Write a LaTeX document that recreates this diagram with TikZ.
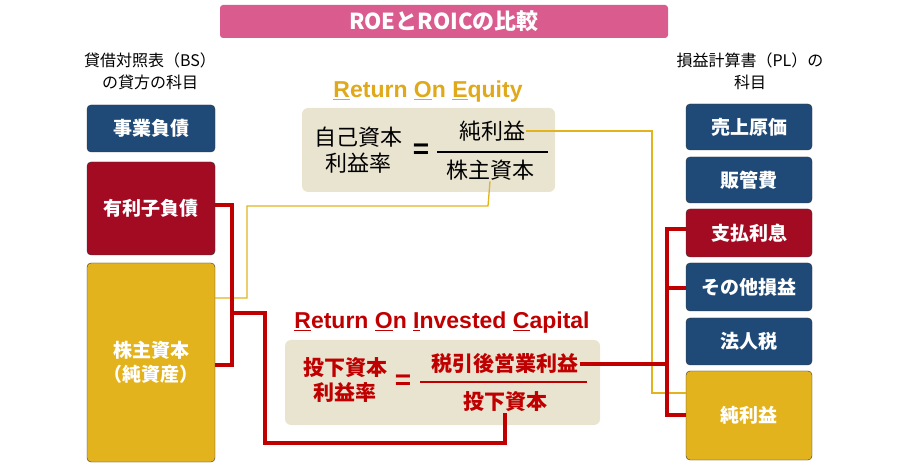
\documentclass[tikz,border=0pt]{standalone}
\usepackage{fontspec}
\setmainfont{Liberation Sans}
\newfontfamily\jp{Noto Sans CJK JP}
\definecolor{navy}{HTML}{1F4A78}
\definecolor{wine}{HTML}{A30B23}
\definecolor{gold}{HTML}{E3B31E}
\definecolor{beige}{HTML}{E9E4D0}
\definecolor{pinkbar}{HTML}{DA5C8F}
\definecolor{roic}{HTML}{C00000}
\definecolor{roe}{HTML}{E0A91B}
\tikzset{
  item/.style={draw=black!80, rounded corners=4pt, minimum width=128pt, text=white, font=\jp\bfseries\fontsize{19}{24}\selectfont, align=center},
  formula/.style={fill=beige, rounded corners=6pt},
  ftxt/.style={font=\jp\fontsize{22}{26}\selectfont, align=center, inner sep=1pt},
  rtxt/.style={text=roic, font=\jp\bfseries\fontsize{21}{25}\selectfont, align=center, inner sep=1pt},
  thinline/.style={gold, line width=1.3pt},
  thickline/.style={roic, line width=3.5pt}
}
\newcommand{\ul}[1]{\underline{#1}}
\begin{document}
\begin{tikzpicture}[x=1pt,y=-1pt]
\useasboundingbox (0,0) rectangle (900,470);
% title
\node[fill=pinkbar, rounded corners=3pt, minimum width=448pt, minimum height=33pt, text=white, font=\jp\bfseries\fontsize{22}{24}\selectfont] (title) at (444,21.5) {ROEとROICの比較};
% left side
\node[font=\jp\fontsize{16}{22}\selectfont, align=center] (bshead) at (150,71) {貸借対照表（BS）\\の貸方の科目};
\node[item, fill=navy, minimum height=47pt] (jigyo) at (151,128.5) {事業負債};
\node[item, fill=wine, minimum height=93pt] (yuri) at (151,208.5) {有利子負債};
\node[item, fill=gold, minimum height=199pt] (kabu) at (151,362.5) {株主資本\\（純資産）};
% right side
\node[font=\jp\fontsize{16}{22}\selectfont, align=center] (plhead) at (750,71) {損益計算書（PL）の\\科目};
\node[item, fill=navy, minimum width=126pt, minimum height=46pt] (genka) at (749,127) {売上原価};
\node[item, fill=navy, minimum width=126pt, minimum height=46pt] (hankan) at (749,180) {販管費};
\node[item, fill=wine, minimum width=126pt, minimum height=48pt] (shiharai) at (749,233) {支払利息};
\node[item, fill=navy, minimum width=126pt, minimum height=48pt] (sonota) at (749,287) {その他損益};
\node[item, fill=navy, minimum width=126pt, minimum height=47pt] (hojin) at (749,341.5) {法人税};
\node[item, fill=gold, minimum width=126pt, minimum height=89pt] (junri) at (749,415.5) {純利益};
% ROE
\node[text=roe, font=\bfseries\fontsize{23}{25}\selectfont] (roetitle) at (428,92) {\ul{R}eturn \ul{O}n \ul{E}quity};
\node[formula, minimum width=253pt, minimum height=84pt] (roebox) at (428.5,150) {};
\node[ftxt] (roeleft) at (358,150) {自己資本\\利益率};
\node[font=\bfseries\fontsize{28}{28}\selectfont] (roeeq) at (421,151) {=};
\node[ftxt] (roenum) at (492,131) {純利益};
\node[ftxt] (roeden) at (490,170) {株主資本};
\draw[line width=2pt] (437,152) -- (548,152);
% ROIC
\node[text=roic, font=\bfseries\fontsize{23}{25}\selectfont] (roictitle) at (442,323) {\ul{R}eturn \ul{O}n \ul{I}nvested \ul{C}apital};
\node[formula, minimum width=315pt, minimum height=85pt] (roicbox) at (442.5,382.5) {};
\node[rtxt] (roicleft) at (345,380) {投下資本\\利益率};
\node[text=roic, font=\bfseries\fontsize{28}{28}\selectfont] (roiceq) at (403,382) {=};
\node[rtxt] (roicnum) at (505,364) {税引後営業利益};
\node[rtxt] (roicden) at (505,402) {投下資本};
\draw[roic, line width=2.5pt] (420,382) -- (587,382);
% ROE links
\draw[thinline] (roenum.east) -| (652,393) -- (junri.west |- 0,393);
\draw[thinline] (roeden.south) -- (488,206) -| (247,298) -- (kabu.east |- 0,298);
% ROIC links
\draw[thickline] (yuri.east |- 0,205) -| (232,365) -- (kabu.east |- 0,365);
\draw[thickline] (232,313) -| (265,443) -| (roicden.south);
\draw[thickline] (roicnum.east) -- (667,364);
\draw[thickline] (shiharai.west |- 0,229) -| (667,415) -- (junri.west |- 0,415);
\draw[thickline] (667,288) -- (sonota.west |- 0,288);
\end{tikzpicture}
\end{document}
